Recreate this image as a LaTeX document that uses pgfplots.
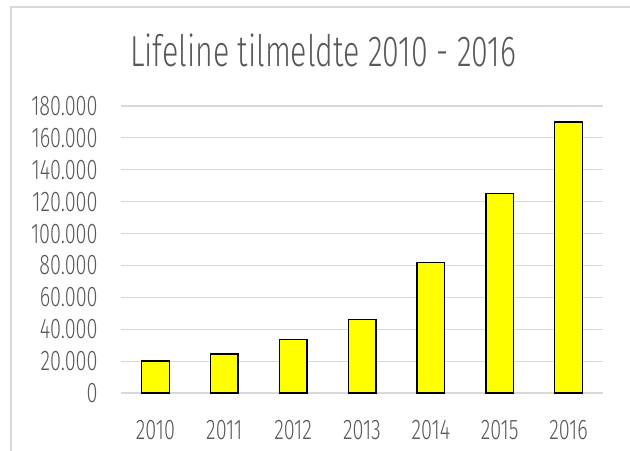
\documentclass[border=0pt]{standalone}
\usepackage{fontspec}
\setmainfont{Fira Sans Light}[FakeStretch=0.70]
\usepackage{pgfplots}
\pgfplotsset{compat=1.18}
\definecolor{txt}{HTML}{595959}
\definecolor{gridc}{HTML}{D9D9D9}
\definecolor{bary}{HTML}{FFFF00}
\begin{document}
\begin{tikzpicture}
\useasboundingbox (-60.5pt,-28.5pt) rectangle (254.5pt,196.5pt);
\draw[gridc, line width=0.75pt] (-55pt,-40pt) rectangle (270pt,193pt);
\begin{axis}[
  at={(0pt,0pt)}, anchor=south west, scale only axis,
  width=241pt, height=143.5pt,
  xmin=-0.5, xmax=6.5, ymin=0, ymax=180000,
  axis line style={draw=none},
  ytick={0,20000,40000,60000,80000,100000,120000,140000,160000,180000},
  yticklabels={0,20.000,40.000,60.000,80.000,100.000,120.000,140.000,160.000,180.000},
  ymajorgrids, grid style={gridc, line width=0.6pt},
  xtick={0,1,2,3,4,5,6},
  xticklabels={2010,2011,2012,2013,2014,2015,2016},
  major tick length=0pt,
  scaled y ticks=false,
  tick label style={text=txt, font=\fontsize{14.2}{16}\selectfont},
  every y tick label/.append style={anchor=east, inner sep=0pt, xshift=-11.5pt},
  every x tick label/.append style={anchor=north, inner sep=0pt, yshift=-13.6pt},
]
\addplot[ybar, bar width=13.8pt, fill=bary, draw=black, line width=0.7pt]
  coordinates {(0,20000) (1,24500) (2,33700) (3,46000) (4,82000) (5,125000) (6,170000)};
\end{axis}
\node[text=txt, font=\fontsize{21.7}{26}\selectfont] at (101pt,171.5pt) {Lifeline tilmeldte 2010 - 2016};
\end{tikzpicture}
\end{document}
